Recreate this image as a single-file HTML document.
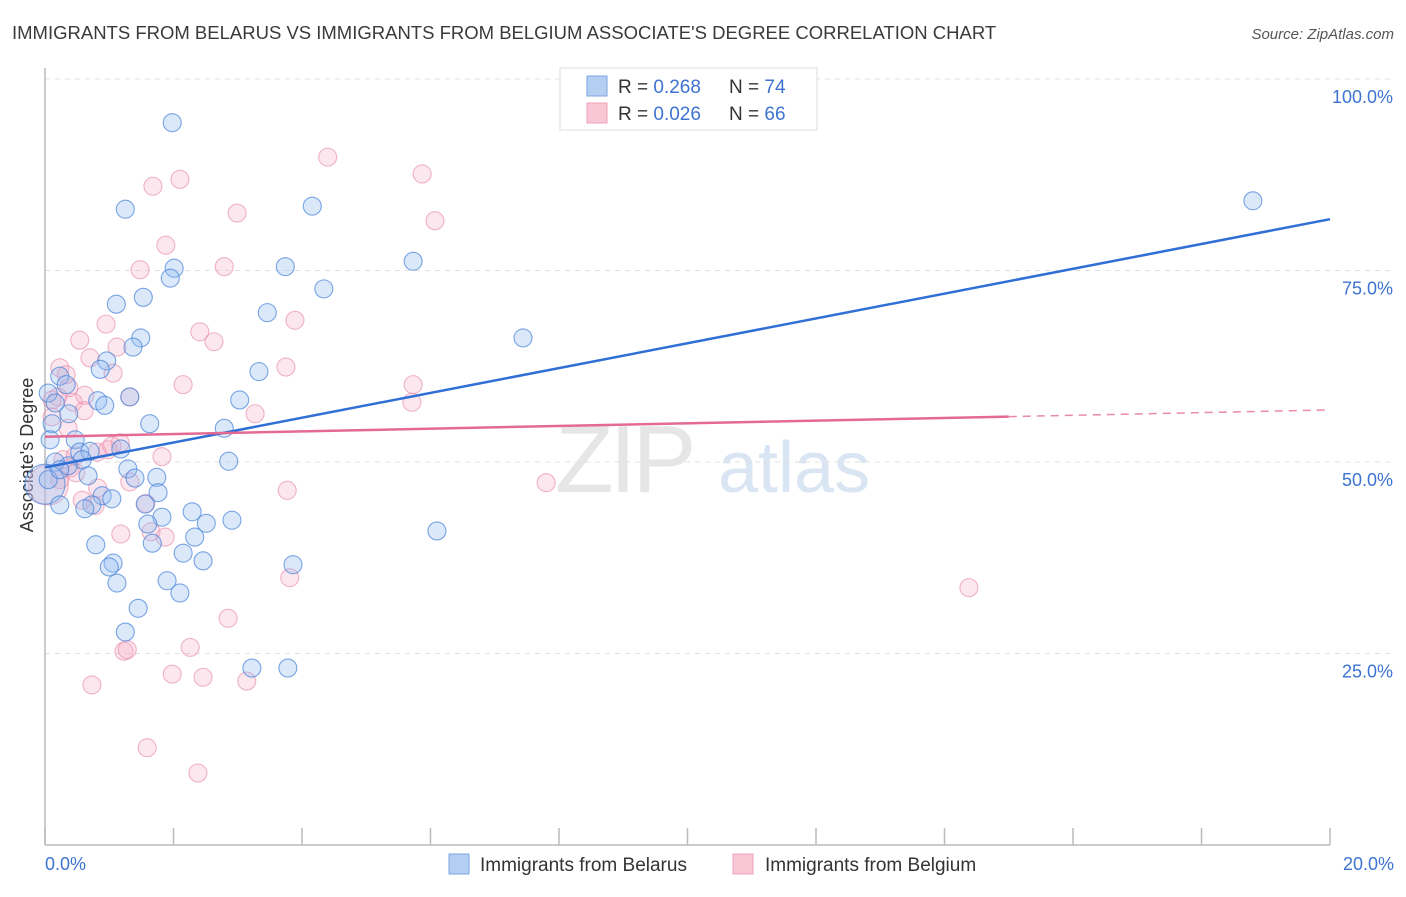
<!DOCTYPE html>
<html><head><meta charset="utf-8">
<style>
body{margin:0;background:#fff;font-family:"Liberation Sans",sans-serif;}
svg text{font-family:"Liberation Sans",sans-serif;}
</style></head>
<body>
<svg id="chart" width="1406" height="892" xmlns="http://www.w3.org/2000/svg">
<text x="12" y="39" font-size="18.5" fill="#3a3a3a">IMMIGRANTS FROM BELARUS VS IMMIGRANTS FROM BELGIUM ASSOCIATE'S DEGREE CORRELATION CHART</text>
<text x="1394" y="39" font-size="15" fill="#555" font-style="italic" text-anchor="end">Source: ZipAtlas.com</text>
<g>
<text x="555" y="492" font-size="96" fill="#e6e6e6" font-family="Liberation Serif,serif" letter-spacing="-4">ZIP</text>
<text x="718" y="492" font-size="72" fill="#dae5f4">atlas</text>
</g>
<g id="grid"></g>
<g id="xticks"></g>
<line x1="45" y1="68" x2="45" y2="845" stroke="#bbb" stroke-width="1.5"/>
<line x1="45" y1="845" x2="1330" y2="845" stroke="#bbb" stroke-width="1.5"/>
<g id="ylabels"></g>
<text x="45" y="870" font-size="18" fill="#3d73d1">0.0%</text>
<text x="1394" y="870" font-size="18" fill="#3d73d1" text-anchor="end">20.0%</text>
<text transform="translate(33,455) rotate(-90)" font-size="18" fill="#333" text-anchor="middle">Associate's Degree</text>
<g id="pts"></g>
<g id="lines"></g>
<g>
<rect x="560" y="68" width="257" height="62" fill="#fff" stroke="#ddd"/>
<rect x="587" y="76" width="20" height="20" fill="#b5cff3" stroke="#7aa6e2"/>
<rect x="587" y="103" width="20" height="20" fill="#f8c6d5" stroke="#eea3bb"/>
<text x="618" y="93" font-size="19" fill="#333">R = <tspan fill="#3d73d1">0.268</tspan><tspan x="729">N = </tspan><tspan fill="#3d73d1">74</tspan></text>
<text x="618" y="120" font-size="19" fill="#333">R = <tspan fill="#3d73d1">0.026</tspan><tspan x="729">N = </tspan><tspan fill="#3d73d1">66</tspan></text>
</g>
<g>
<rect x="449" y="854" width="20" height="20" fill="#b5cff3" stroke="#7aa6e2"/>
<text x="480" y="871" font-size="19" fill="#333">Immigrants from Belarus</text>
<rect x="733" y="854" width="20" height="20" fill="#f8c6d5" stroke="#eea3bb"/>
<text x="765" y="871" font-size="19" fill="#333">Immigrants from Belgium</text>
</g>
</svg>
<script>
const yTicks=[25,50,75,100];
const yTickLabels=["25.0%","50.0%","75.0%","100.0%"];
const xTicks=[0,2,4,6,8,10,12,14,16,18,20];
const blueX=[1.98,1.25,4.16,18.80,2.01,1.95,3.74,5.73,4.34,1.11,1.53,3.46,1.49,1.37,7.44,0.96,0.86,3.33,0.23,0.33,0.05,0.16,0.82,0.93,1.32,3.03,0.37,0.11,1.63,2.79,0.08,0.47,0.54,0.70,1.18,2.86,0.58,0.36,0.16,1.29,1.74,1.40,0.67,0.89,1.76,1.04,0.73,0.62,1.56,2.29,1.82,1.60,2.51,2.91,6.10,2.33,0.79,1.67,2.15,2.46,3.86,1.06,1.00,1.12,1.90,2.10,1.45,1.25,3.22,3.78,0.0,0.23,0.05,0.23];
const blueY=[94.3,83.0,83.4,84.1,75.3,74.0,75.5,76.2,72.6,70.6,71.5,69.5,66.2,65.0,66.2,63.2,62.1,61.8,61.2,60.1,59.0,57.7,58.0,57.4,58.5,58.1,56.3,55.0,55.0,54.4,52.9,52.9,51.3,51.4,51.7,50.1,50.3,49.5,50.0,49.1,48.0,47.9,48.2,45.6,46.0,45.2,44.4,43.9,44.5,43.5,42.8,41.9,42.0,42.4,41.0,40.2,39.2,39.4,38.1,37.1,36.6,36.8,36.3,34.2,34.5,32.9,30.9,27.8,23.1,23.1,47.1,44.4,47.7,49.0];
const blueBig=[70];
const pinkX=[4.40,5.87,2.10,1.68,6.07,2.99,1.88,1.48,2.79,3.89,0.95,2.41,0.54,2.63,1.12,0.70,0.23,3.75,1.06,2.15,5.73,0.37,0.20,1.32,0.44,5.71,3.27,0.61,0.11,0.36,1.17,0.81,1.04,0.39,0.48,1.82,1.32,3.77,7.80,0.82,0.58,0.78,1.57,1.65,1.18,1.87,3.81,14.38,2.85,2.26,1.23,1.28,1.98,2.46,3.14,0.73,1.59,2.38,0.05,0.23,0.28,0.11,0.33,0.62,0.98,0.47];
const pinkY=[89.8,87.6,86.9,86.0,81.5,82.5,78.3,75.1,75.5,68.5,68.0,67.0,65.9,65.7,65.0,63.6,62.3,62.4,61.6,60.1,60.1,59.7,58.5,58.5,57.8,57.8,56.3,56.7,55.9,54.4,52.5,51.3,52.1,49.2,48.6,50.7,47.4,46.3,47.3,46.6,45.0,44.3,44.6,40.9,40.6,40.2,34.9,33.6,29.6,25.8,25.3,25.5,22.3,21.9,21.4,20.9,12.7,9.4,47.0,47.7,50.3,58.1,61.4,58.7,51.6,50.8];
const pinkBig=[58];
const blueLine=[49.3,81.7];
const pinkLine=[53.3,56.8];
const pinkSolidEnd=15.0;

const NS="http://www.w3.org/2000/svg";
const sx=v=>45+v/20*1285;
const sy=v=>845-v/100*766;
function mk(tag,attrs,parent){const e=document.createElementNS(NS,tag);for(const k in attrs)e.setAttribute(k,attrs[k]);parent.appendChild(e);return e;}
const grid=document.getElementById('grid'),yl=document.getElementById('ylabels'),xt=document.getElementById('xticks'),pts=document.getElementById('pts'),lines=document.getElementById('lines');
yTicks.forEach((t,i)=>{
  const l=mk('line',{x1:45,x2:1395,y1:sy(t),y2:sy(t),stroke:'#e0e0e0','stroke-dasharray':'5,5'},grid);
  
  
  const tx=mk('text',{x:1393,y:sy(t)+24,'font-size':18,fill:'#3d73d1','text-anchor':'end'},yl);
  tx.textContent=yTickLabels[i];
  
  
});
xTicks.forEach(t=>{
  const l=mk('line',{x1:sx(t),x2:sx(t),y1:828,y2:845,stroke:'#bbb','stroke-width':1.5},xt);
  
  
});
function drawSeries(X,Y,big,fill,stroke,name){
  X.forEach((x,i)=>{
    const c=mk('circle',{cx:sx(x),cy:sy(Y[i]),r:big.includes(i)?20:9,fill:fill,stroke:stroke,'stroke-width':1.1},pts);
    
    
  });
}
drawSeries(pinkX,pinkY,pinkBig,'rgba(245,170,195,0.28)','rgba(232,140,170,0.65)','point-belgium');
drawSeries(blueX,blueY,blueBig,'rgba(150,190,240,0.35)','rgba(70,130,215,0.7)','point-belarus');
const bl=mk('line',{x1:sx(0),y1:sy(blueLine[0]),x2:sx(20),y2:sy(blueLine[1]),stroke:'#2f6fd6','stroke-width':2.5},lines);


const pm=pinkLine[0]+(pinkLine[1]-pinkLine[0])*pinkSolidEnd/20;
const pl=mk('line',{x1:sx(0),y1:sy(pinkLine[0]),x2:sx(pinkSolidEnd),y2:sy(pm),stroke:'#e46a94','stroke-width':2.5},lines);


const pd=mk('line',{x1:sx(pinkSolidEnd),y1:sy(pm),x2:sx(20),y2:sy(pinkLine[1]),stroke:'#e88aaa','stroke-width':1.5,'stroke-dasharray':'8,6'},lines);


</script>
</body></html>
